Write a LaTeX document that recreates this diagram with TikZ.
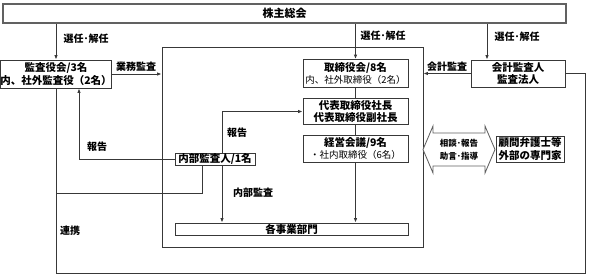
\documentclass[tikz,border=0pt]{standalone}
\usepackage{fontspec}
\setmainfont{Noto Sans CJK JP}
\usetikzlibrary{arrows.meta}
\begin{document}
\begin{tikzpicture}[x=1pt,y=-1pt,
  ln/.style={draw=black!78, line width=0.85pt},
  arr/.style={ln, -{Latex[length=4.5pt,width=3.5pt]}},
  box/.style={draw=black!78, line width=0.85pt, fill=white, align=center, inner sep=0pt,
    font=\bfseries\fontsize{10.5}{12.5}\selectfont},
  lbl/.style={font=\bfseries\fontsize{10}{12}\selectfont, inner sep=0pt},
]
\useasboundingbox (0,0) rectangle (589,276);

% frame of the company
\node[draw=black!78, line width=0.85pt, minimum width=261pt, minimum height=200pt, inner sep=0pt] (big) at (292.5,147) {};

% shareholders meeting
\node[draw=black!62, line width=2.6pt, fill=white, minimum width=563pt, minimum height=19pt, inner sep=0pt,
  font=\bfseries\fontsize{11}{13}\selectfont] (bar) at (284.5,13.5) {株主総会};

% boxes
\node[box, minimum width=104pt, minimum height=28pt] (kansa) at (56,74) {監査役会/3名\\内、社外監査役（2名）};
\node[box, minimum width=105pt, minimum height=28pt] (tori) at (355.5,73.5) {取締役会/8名\\{\mdseries\fontsize{9.5}{12.5}\selectfont 内、社外取締役（2名）}};
\node[box, minimum width=94pt, minimum height=27pt] (kaikei) at (518,73.5) {会計監査人\\監査法人};
\node[box, minimum width=105pt, minimum height=26pt] (daihyo) at (355.5,111.5) {代表取締役社長\\代表取締役副社長};
\node[box, minimum width=105pt, minimum height=27pt] (keiei) at (355.5,148.5) {経営会議/9名\\{\mdseries\fontsize{9.5}{12.5}\selectfont ・社内取締役（6名）}};
\node[box, minimum width=80pt, minimum height=12pt] (naibu) at (215,159) {内部監査人/1名};
\node[box, minimum width=233pt, minimum height=12pt] (jigyo) at (291.5,229) {各事業部門};
\node[box, minimum width=68pt, minimum height=26pt] (komon) at (530,149) {顧問弁護士等\\外部の専門家};

% double arrow (consultation)
\draw[draw=black!62, line width=0.85pt, fill=white]
  (423,149.5) -- (433,126) -- (433,133) -- (485,133) -- (485,126) -- (495,149.5)
  -- (485,173) -- (485,166) -- (433,166) -- (433,173) -- cycle;
\node[align=center, inner sep=0pt, font=\bfseries\fontsize{8.5}{13}\selectfont] (sodan) at (459,149.5) {相談･報告\\助言･指導};

% helper coordinates
\coordinate (kx) at (487,0);
\coordinate (nx) at (222,0);
\coordinate (nx2) at (202,0);
\coordinate (bx) at (79,0);
\coordinate (jn) at (56,193);
\coordinate (rc) at (585,273);

% election arrows
\draw[arr] (bar.south -| kansa.north) -- (kansa.north);
\draw[arr] (bar.south -| tori.north) -- (tori.north);
\draw[arr] (bar.south -| kx) -- (kaikei.north -| kx);
\node[lbl] (l1) at (86,39) {選任･解任};
\node[lbl] (l2) at (383,36) {選任･解任};
\node[lbl] (l3) at (517,37) {選任･解任};

% audits
\draw[arr] (kansa.east) -- (kansa.east -| big.west);
\node[lbl] (l4) at (136,67) {業務監査};
\draw[arr] (kaikei.west) -- (kaikei.west -| big.east);
\node[lbl] (l5) at (447,67) {会計監査};

% chain of management
\draw[ln] (tori.south) -- (daihyo.north);
\draw[ln] (daihyo.south) -- (keiei.north);
\draw[arr] (keiei.south) -- (jigyo.north -| keiei.south);

% internal audit
\draw[arr] (naibu.north -| nx) |- (daihyo.west);
\node[lbl] (l6) at (237,133) {報告};
\draw[arr] (naibu.south -| nx) -- (jigyo.north -| nx);
\node[lbl] (l7) at (253,193) {内部監査};
\draw[arr] (naibu.west) -| (kansa.south -| bx);
\node[lbl] (l8) at (97,147) {報告};

% cooperation
\draw[ln] (kansa.south) |- (rc) |- (kaikei.east);
\draw[ln] (naibu.south -| nx2) |- (jn);
\node[lbl] (l9) at (70,231) {連携};
\end{tikzpicture}
\end{document}
